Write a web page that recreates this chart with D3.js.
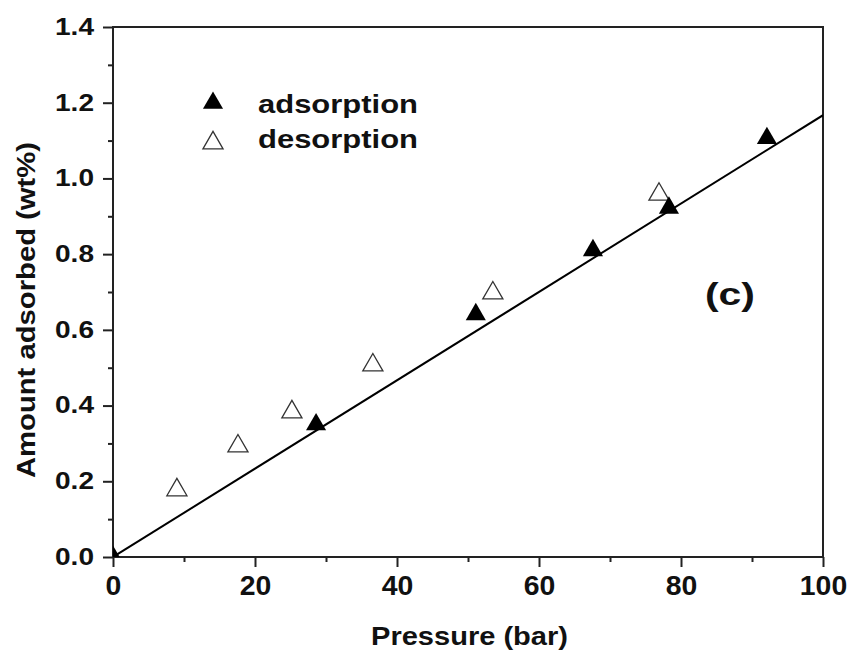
<!DOCTYPE html>
<html><head><meta charset="utf-8">
<script src="https://cdn.jsdelivr.net/npm/d3@7"></script>
<style>body{margin:0;background:#fff}svg{display:block}text{font-family:"Liberation Sans",Arial,sans-serif;font-weight:bold}</style>
</head><body>
<script>
const adsP = [0, 28.6, 51.1, 67.6, 78.3, 92.1];
const adsA = [0, 0.350, 0.641, 0.810, 0.922, 1.106];
const desP = [9.0, 17.6, 25.2, 36.6, 53.5, 76.9];
const desA = [0.177, 0.293, 0.383, 0.507, 0.697, 0.958];
const fitP = [0, 100];
const fitA = [0, 1.167];
const xTicks = [0, 20, 40, 60, 80, 100];
const yTicks = [0.0, 0.2, 0.4, 0.6, 0.8, 1.0, 1.2, 1.4];

const W = 851, H = 656;
const L = 113, R = 823, T = 27, B = 557;
const svg = d3.select("body").append("svg").attr("width", W).attr("height", H);
const x = d3.scaleLinear().domain([0, 100]).range([L, R]);
const y = d3.scaleLinear().domain([0, 1.4]).range([B, T]);

svg.append("defs").append("clipPath").attr("id", "clip")
  .append("rect").attr("x", L).attr("y", T).attr("width", R - L).attr("height", B - T);

// frame
svg.append("rect").attr("x", L).attr("y", T).attr("width", R - L).attr("height", B - T)
  .attr("fill", "none").attr("stroke", "#222").attr("stroke-width", 2);

// axes
const xAx = svg.append("g").attr("transform", `translate(0,${B})`)
  .call(d3.axisBottom(x).tickValues(xTicks).tickFormat(d3.format("d")).tickSize(10).tickPadding(9));
const xMinor = svg.append("g").attr("transform", `translate(0,${B})`)
  .call(d3.axisBottom(x).tickValues(d3.range(10, 100, 20)).tickFormat("").tickSize(5));
const yAx = svg.append("g").attr("transform", `translate(${L},0)`)
  .call(d3.axisLeft(y).tickValues(yTicks).tickFormat(d3.format(".1f")).tickSize(10).tickPadding(9));
const yMinor = svg.append("g").attr("transform", `translate(${L},0)`)
  .call(d3.axisLeft(y).tickValues(d3.range(0.1, 1.4, 0.2)).tickFormat("").tickSize(5));
[xAx, xMinor, yAx, yMinor].forEach(g => {
  g.select(".domain").remove();
  g.selectAll("line").attr("stroke", "#222").attr("stroke-width", 2);
  g.selectAll("text").attr("fill", "#111")
    .style("font-family", '"Liberation Sans",Arial,sans-serif').style("font-weight", "bold");
});
xAx.selectAll("text").attr("font-size", 27).attr("textLength", function () { return 15.8 * this.textContent.length; })
  .attr("lengthAdjust", "spacingAndGlyphs");
yAx.selectAll("text").attr("font-size", 23).attr("textLength", 39).attr("lengthAdjust", "spacingAndGlyphs");

// fit line
const line = d3.line().x((d, i) => x(fitP[i])).y(d => y(d));
svg.append("path").attr("d", line(fitA)).attr("fill", "none").attr("stroke", "#000").attr("stroke-width", 2)
  .attr("clip-path", "url(#clip)");

const tri = d3.symbol().type(d3.symbolTriangle).size(175);
const pts = svg.append("g").attr("clip-path", "url(#clip)");
pts.selectAll(".des").data(desP).enter().append("path")
  .attr("d", tri).attr("transform", (d, i) => `translate(${x(d)},${y(desA[i])})`)
  .attr("fill", "#fff").attr("stroke", "#333").attr("stroke-width", 1.3);
pts.selectAll(".ads").data(adsP).enter().append("path")
  .attr("d", tri).attr("transform", (d, i) => `translate(${x(d)},${y(adsA[i])})`)
  .attr("fill", "#000");

// legend
const lg = svg.append("g");
lg.append("path").attr("d", tri).attr("transform", "translate(213,103)").attr("fill", "#000");
lg.append("path").attr("d", tri).attr("transform", "translate(213,143)").attr("fill", "#fff").attr("stroke", "#333").attr("stroke-width", 1.3);
lg.append("text").attr("x", 258).attr("y", 113).attr("font-size", 25).attr("fill", "#111")
  .attr("textLength", 160).attr("lengthAdjust", "spacingAndGlyphs").text("adsorption");
lg.append("text").attr("x", 258).attr("y", 148).attr("font-size", 25).attr("fill", "#111")
  .attr("textLength", 160).attr("lengthAdjust", "spacingAndGlyphs").text("desorption");

svg.append("text").attr("x", 705).attr("y", 305).attr("font-size", 31).attr("fill", "#111")
  .attr("textLength", 50).attr("lengthAdjust", "spacingAndGlyphs").text("(c)");

// axis titles
svg.append("text").attr("x", 371).attr("y", 645).attr("font-size", 25).attr("fill", "#111")
  .attr("textLength", 197).attr("lengthAdjust", "spacingAndGlyphs").text("Pressure (bar)");
svg.append("text").attr("transform", `translate(35,478) rotate(-90)`).attr("font-size", 25).attr("fill", "#111")
  .attr("textLength", 336).attr("lengthAdjust", "spacingAndGlyphs").text("Amount adsorbed (wt%)");
</script>
</body></html>
